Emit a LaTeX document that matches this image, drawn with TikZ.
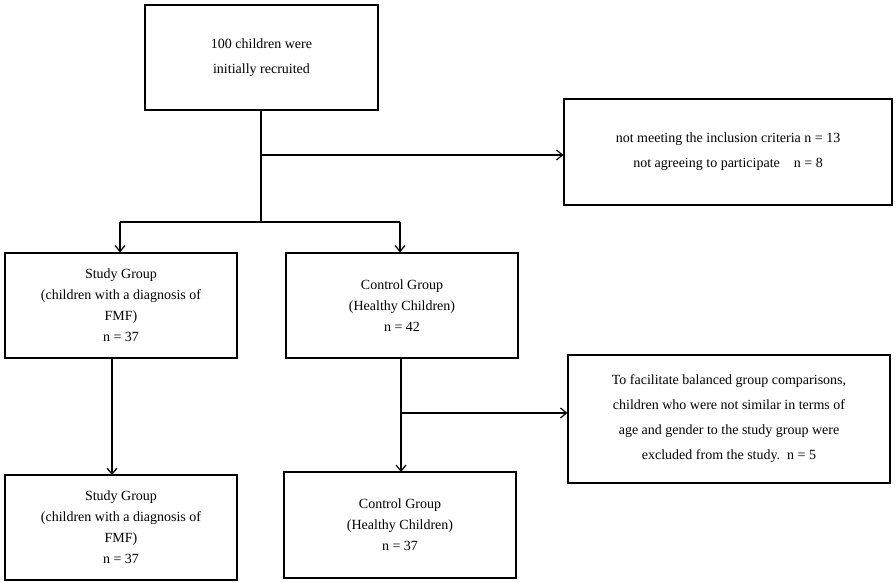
\documentclass[tikz,border=0pt]{standalone}
\usetikzlibrary{arrows.meta}
\usepackage{fontspec}
\setmainfont{Liberation Serif}
\begin{document}
\begin{tikzpicture}[x=1pt,y=-1pt,
  box/.style={draw,line width=1.2pt,align=center,font=\fontsize{14}{25}\selectfont,inner sep=0pt},
  arr/.style={line width=1.2pt,->,>={Straight Barb[length=6pt,width=10pt]}},
  ln/.style={line width=1.2pt}]
\useasboundingbox (0,0) rectangle (896,583);
\node[box,minimum width=233pt,minimum height=105pt] (top) at (261.5,57.5) {100 children were\\initially recruited};
\node[box,minimum width=328pt,minimum height=106pt] (ex1) at (728,152) {not meeting the inclusion criteria n = 13\\not agreeing to participate\quad n = 8};
\node[box,minimum width=232pt,minimum height=105pt,font=\fontsize{14}{21}\selectfont] (s1) at (121,305.5) {Study Group\\(children with a diagnosis of\\FMF)\\n = 37};
\node[box,minimum width=232pt,minimum height=105pt,font=\fontsize{14}{21}\selectfont] (c1) at (402,305.5) {Control Group\\(Healthy Children)\\n = 42};
\node[box,minimum width=322pt,minimum height=128pt,font=\fontsize{14}{25}\selectfont] (ex2) at (729,419) {To facilitate balanced group comparisons,\\children who were not similar in terms of\\age and gender to the study group were\\excluded from the study.\ \ n = 5};
\node[box,minimum width=232pt,minimum height=105pt,font=\fontsize{14}{21}\selectfont] (s2) at (121,527.5) {Study Group\\(children with a diagnosis of\\FMF)\\n = 37};
\node[box,minimum width=232pt,minimum height=106pt,font=\fontsize{14}{21}\selectfont] (c2) at (400,525) {Control Group\\(Healthy Children)\\n = 37};
\coordinate (j1) at (261,222);
\coordinate (b1) at (261,155);
\coordinate (jl) at (120,222);
\coordinate (jr) at (400,222);
\coordinate (b2) at (401,413);
\draw[ln] (top.south -| j1) -- (j1);
\draw[arr] (b1) -- (b1 -| ex1.west);
\draw[ln] (jl) -- (jr);
\draw[arr] (jl) -- (jl |- s1.north);
\draw[arr] (jr) -- (jr |- c1.north);
\draw[arr] (112,358) -- (112,475);
\draw[arr] (401,358) -- (401,472);
\draw[arr] (b2) -- (b2 -| ex2.west);
\end{tikzpicture}
\end{document}
